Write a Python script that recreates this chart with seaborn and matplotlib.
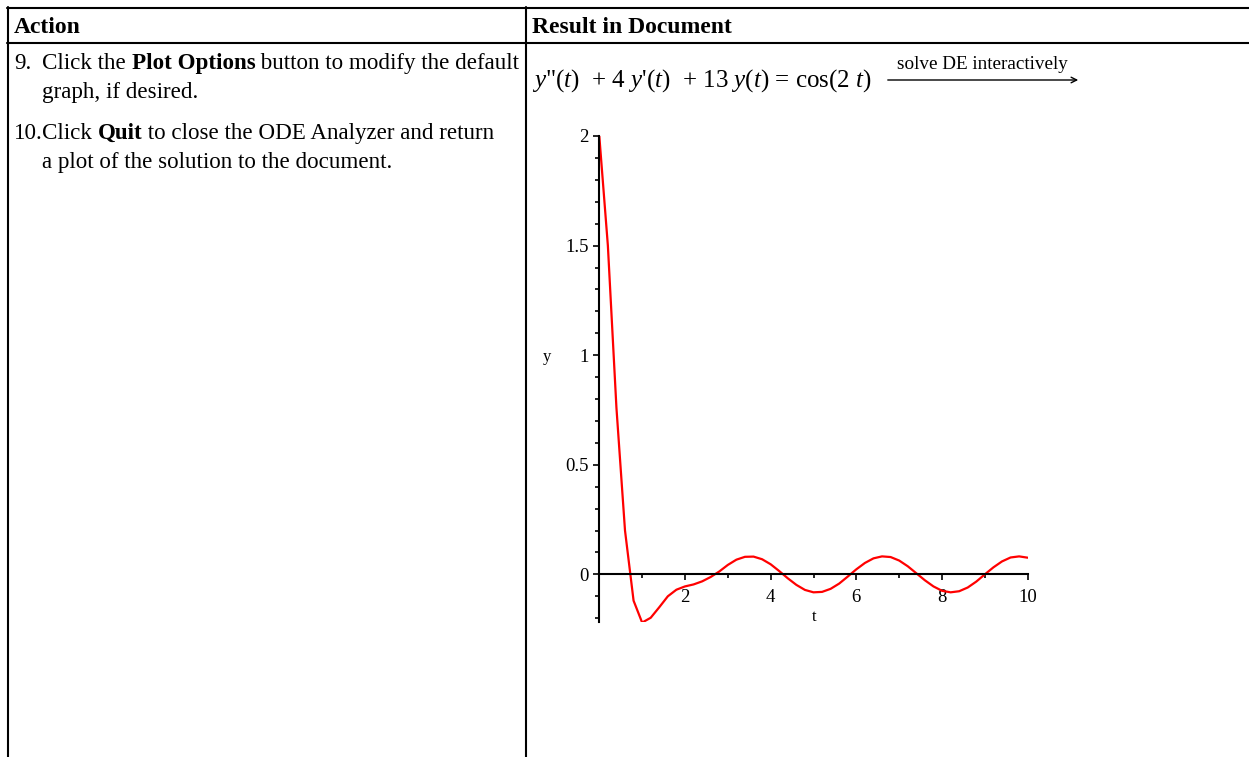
import numpy as np
import matplotlib
matplotlib.use("Agg")
import matplotlib.pyplot as plt
from matplotlib.lines import Line2D
from matplotlib.patches import FancyArrowPatch
import seaborn as sns

# solution values (step 0.2)
t_vals = [0.0, 0.2, 0.4, 0.6, 0.8, 1.0, 1.2, 1.4, 1.6, 1.8,
          2.0, 2.2, 2.4, 2.6, 2.8, 3.0, 3.2, 3.4, 3.6, 3.8,
          4.0, 4.2, 4.4, 4.6, 4.8, 5.0, 5.2, 5.4, 5.6, 5.8,
          6.0, 6.2, 6.4, 6.6, 6.8, 7.0, 7.2, 7.4, 7.6, 7.8,
          8.0, 8.2, 8.4, 8.6, 8.8, 9.0, 9.2, 9.4, 9.6, 9.8, 10.0]
y_vals = [2.0, 1.5, 0.76, 0.2, -0.12, -0.22, -0.198, -0.15, -0.10, -0.07,
          -0.055, -0.046, -0.032, -0.012, 0.013, 0.043, 0.067, 0.080, 0.081, 0.069,
          0.046, 0.015, -0.018, -0.048, -0.071, -0.082, -0.080, -0.066, -0.042, -0.010,
          0.023, 0.052, 0.073, 0.082, 0.079, 0.063, 0.037, 0.005, -0.027, -0.055,
          -0.075, -0.082, -0.077, -0.060, -0.033, 0.0, 0.032, 0.059, 0.077, 0.082, 0.076]

x_major = [2, 4, 6, 8, 10]
x_minor = [1, 3, 5, 7, 9]
y_major = [0, 0.5, 1, 1.5, 2]
y_labels = ["0", "0.5", "1", "1.5", "2"]

sns.set_style("white")
plt.rcParams["font.family"] = ["Liberation Serif", "DejaVu Serif"]
plt.rcParams["mathtext.fontset"] = "custom"
plt.rcParams["mathtext.rm"] = "Liberation Serif"
plt.rcParams["mathtext.it"] = "Liberation Serif:italic"
plt.rcParams["text.color"] = "black"
plt.rcParams["xtick.labelcolor"] = "black"
plt.rcParams["ytick.labelcolor"] = "black"

W, H = 1249, 757
fig = plt.figure(figsize=(W / 100, H / 100), dpi=100)
renderer = fig.canvas.get_renderer()


def fx(px):
    return px / W


def fy(py):
    return 1 - py / H


def hline(x0, x1, y, lw=1.5):
    fig.add_artist(Line2D([fx(x0), fx(x1)], [fy(y), fy(y)], color="black", lw=lw))


def vline(x, y0, y1, lw=1.5):
    fig.add_artist(Line2D([fx(x), fx(x)], [fy(y0), fy(y1)], color="black", lw=lw))


def put(parts, x, y, size=16.6):
    # parts: list of (text, bold)
    for txt, bold in parts:
        t = fig.text(fx(x), fy(y), txt, fontsize=size, va="baseline", ha="left",
                     fontweight="bold" if bold else "normal")
        bb = t.get_window_extent(renderer=renderer)
        x += bb.width


# table lines
hline(7, W, 7.5)
hline(7, W, 42.5)
vline(7.5, 7, H)
vline(526, 7, H)

# header
put([("Action", True)], 14, 33, 17)
put([("Result in Document", True)], 532, 33, 17)

# left column text
fig.text(fx(14), fy(69), "9.", fontsize=16.6, va="baseline")
put([("Click the ", False), ("Plot Options", True), (" button to modify the default", False)], 42, 69)
put([("graph, if desired.", False)], 42, 98)
fig.text(fx(14), fy(139), "10.", fontsize=16.6, va="baseline")
put([("Click ", False), ("Quit", True), (" to close the ODE Analyzer and return", False)], 42, 139)
put([("a plot of the solution to the document.", False)], 42, 168)

# equation and arrow
fig.text(fx(532), fy(87),
         r'$y$"($t$)  + 4 $y$' + "'" + r'($t$)  + 13 $y$($t$) = cos(2 $t$)',
         fontsize=18, va="baseline")
fig.text(fx(982), fy(69), "solve DE interactively", fontsize=13.8, va="baseline", ha="center")
fig.add_artist(FancyArrowPatch((fx(885), fy(80)), (fx(1081), fy(80)),
                               transform=fig.transFigure, arrowstyle="->",
                               mutation_scale=10, lw=1, color="black"))

# plot
x0, x1 = 599.3, 1027.7
ytop, ybot = 136, 621.7
ax = fig.add_axes([fx(x0), fy(ybot), (x1 - x0) / W, (ybot - ytop) / H])
sns.lineplot(x=t_vals, y=y_vals, ax=ax, color="red", linewidth=1.6)
ax.set_xlim(0, 10)
ax.set_ylim(-0.216, 2.0)
for s in ["top", "right"]:
    ax.spines[s].set_visible(False)
ax.spines["bottom"].set_position(("data", 0))
for s in ["bottom", "left"]:
    ax.spines[s].set_linewidth(1.5)
    ax.spines[s].set_color("black")

ax.set_xticks(x_major)
ax.set_xticklabels([str(v) for v in x_major])
ax.set_xticks(x_minor, minor=True)
ax.set_yticks(y_major)
ax.set_yticklabels(y_labels)
ax.set_yticks([round(-0.2 + 0.1 * i, 1) for i in range(22) if round(-0.2 + 0.1 * i, 1) not in y_major],
              minor=True)
ax.tick_params(axis="both", which="both", bottom=True, left=True, direction="out",
               color="black", width=1.2)
ax.tick_params(axis="both", which="major", length=4.5, labelsize=13.5, pad=3)
ax.tick_params(axis="both", which="minor", length=3)
ax.tick_params(axis="x", which="major", pad=6)

ax.set_xlabel("")
ax.set_ylabel("")
fig.text(fx(814), fy(617), "t", fontsize=12, ha="center", va="center")
fig.text(fx(547), fy(357), "y", fontsize=12, ha="center", va="center")

fig.savefig("out.png", dpi=100)
